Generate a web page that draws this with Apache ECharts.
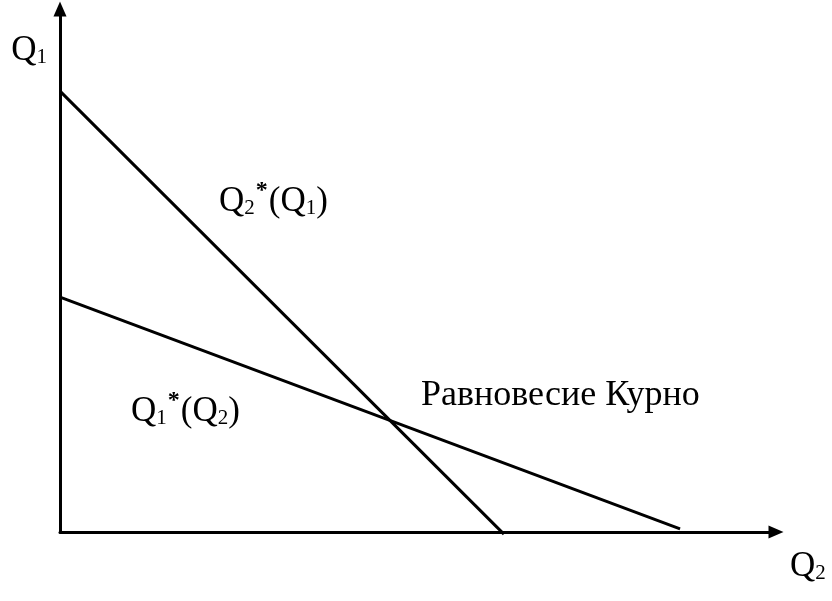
<!DOCTYPE html>
<html><head><meta charset="utf-8">
<script src="https://cdn.jsdelivr.net/npm/echarts@6/dist/echarts.min.js"></script>
<style>html,body{margin:0;padding:0;background:#fff}#c{width:832px;height:601px}</style>
</head><body><div id="c"></div>
<script>
// Reaction curves (arbitrary units: Q2 on x, Q1 on y)
const reactionQ2 = [[0, 84.3], [62.0, -0.4]];   // Q2*(Q1)
const reactionQ1 = [[0, 44.9], [86.6, 0.6]];    // Q1*(Q2)
const labels = {
  q2star: '{m|Q}{s|2}{p|*}{m|(Q}{s|1}{m|)}',
  q1star: '{m|Q}{s|1}{p|*}{m|(Q}{s|2}{m|)}',
  eq: 'Равновесие Курно',
  yName: '{m|Q}{s|1}',
  xName: '{m|Q}{s|2}'
};
const FF = '"Liberation Serif", "Times New Roman", serif';
const rich = {
  m: {fontSize: 35, fontFamily: FF, color: '#000', lineHeight: 40, verticalAlign: 'bottom'},
  s: {fontSize: 21, fontFamily: FF, color: '#000', lineHeight: 26, verticalAlign: 'bottom'},
  p: {fontSize: 24, fontFamily: FF, color: '#000', fontWeight: 'bold', lineHeight: 22, verticalAlign: 'top', padding: [0, 1, 0, 1]}
};
const chart = echarts.init(document.getElementById('c'));
const axisLine = {show: true, lineStyle: {color: '#000', width: 3}, symbol: ['none', 'triangle'], symbolSize: [13, 15]};
chart.setOption({
  animation: false,
  grid: {left: 60, right: 56, top: 9, bottom: 69},
  xAxis: {type: 'value', min: 0, max: 100, axisLine: axisLine, axisTick: {show: false}, axisLabel: {show: false}, splitLine: {show: false},
    name: labels.xName, nameLocation: 'end', nameGap: 14,
    nameTextStyle: {align: 'left', verticalAlign: 'top', padding: [12, 0, 0, 0], rich: rich}},
  yAxis: {type: 'value', min: 0, max: 100, axisLine: axisLine, axisTick: {show: false}, axisLabel: {show: false}, splitLine: {show: false},
    name: labels.yName, nameLocation: 'end', nameGap: -39,
    nameTextStyle: {align: 'right', verticalAlign: 'middle', padding: [0, 13, 0, 0], rich: rich}},
  series: [
    {type: 'line', data: reactionQ2, clip: false, symbol: 'none', lineStyle: {color: '#000', width: 3}},
    {type: 'line', data: reactionQ1, clip: false, symbol: 'none', lineStyle: {color: '#000', width: 3}}
  ],
  graphic: [
    {type: 'text', left: 219, top: 179, style: {text: labels.q2star, rich: rich}},
    {type: 'text', left: 131, top: 389, style: {text: labels.q1star, rich: rich}},
    {type: 'text', left: 421, top: 378, style: {text: labels.eq, font: '36px ' + FF, fill: '#000'}}
  ]
});
</script></body></html>
